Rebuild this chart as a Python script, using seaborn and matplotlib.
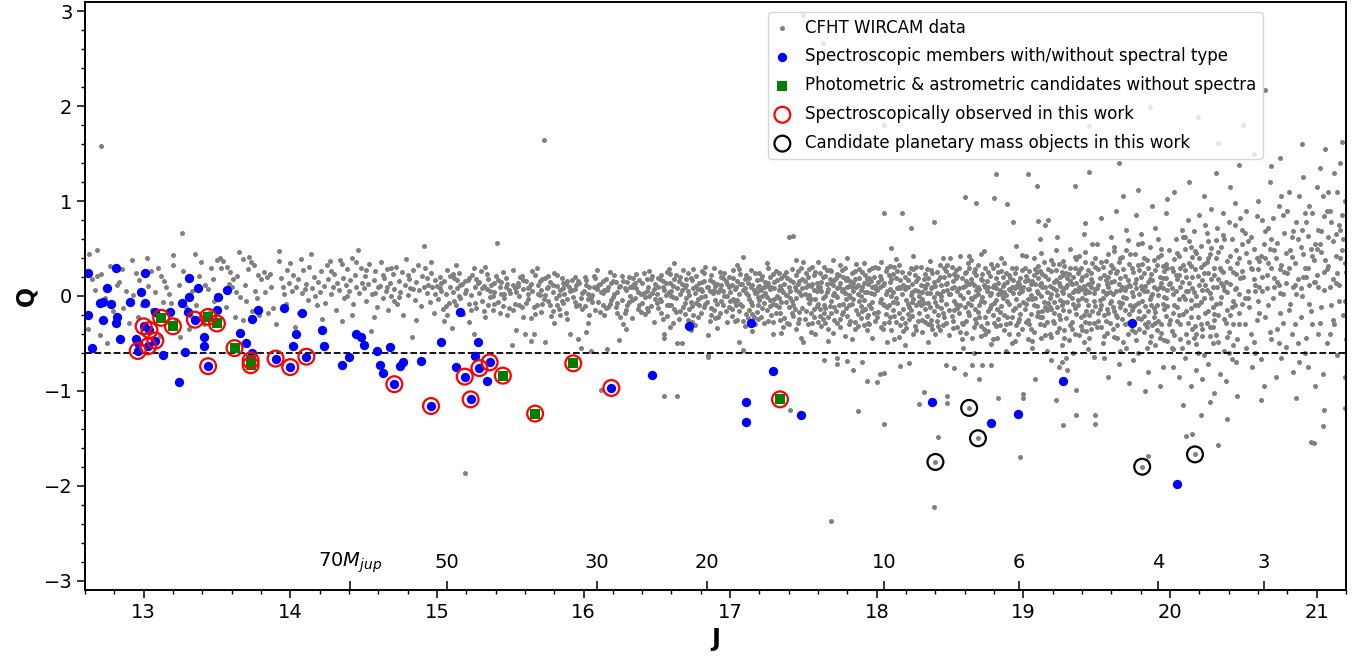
import numpy as np
import matplotlib
matplotlib.use("Agg")
import matplotlib.pyplot as plt
import seaborn as sns
from matplotlib.ticker import AutoMinorLocator

# CFHT WIRCAM photometry (J, Q), "J,Q" pairs
gray_pts = """
12.63,0.44 12.68,0.48 12.71,1.58 12.65,0.18 12.68,0.21 12.71,0.23 12.67,0.06 12.74,-0.02 12.82,0.12 12.83,0.15
12.77,0.32 12.88,0.05 12.93,0.01 12.95,0.24 12.86,-0.13 12.75,-0.50 12.90,-0.28 12.79,-0.16 12.97,0.17 12.92,0.38
12.85,0.28 12.99,-0.09 12.62,-0.35 12.70,-0.41 12.96,-0.22
13.02,0.40 13.05,0.26 13.03,0.11 13.08,0.04 13.12,0.21 13.14,0.16 13.15,0.09 13.17,0.02 13.19,-0.07 13.13,-0.06
13.20,0.43 13.20,0.33 13.26,0.66 13.24,0.12 13.27,0.26 13.29,-0.12 13.33,0.05 13.36,-0.09 13.39,0.36 13.38,0.21
13.42,0.12 13.44,0.07 13.46,0.29 13.48,-0.05 13.41,-0.30 13.06,-0.15 13.11,-0.42 13.22,-0.25 13.31,-0.35 13.35,0.44
13.10,0.30 13.45,-0.17 13.25,-0.43 13.47,0.18 13.32,-0.21
13.50,0.38 13.52,0.40 13.54,0.37 13.53,0.30 13.57,0.31 13.58,0.13 13.60,0.10 13.61,0.18 13.63,0.04 13.65,0.46
13.66,-0.01 13.68,0.39 13.69,0.12 13.70,-0.05 13.72,0.41 13.73,0.36 13.75,0.33 13.76,0.05 13.77,-0.02 13.78,0.22
13.80,0.18 13.82,0.25 13.84,0.20 13.86,0.23 13.88,-0.13 13.85,-0.18 13.79,-0.20 13.74,-0.16 13.92,0.47 13.92,0.37
13.95,0.09 13.96,0.02 13.98,0.27 13.99,0.14 13.56,-0.12 13.62,-0.22 13.68,-0.25 13.90,-0.30 13.94,0.19 13.97,-0.08
13.59,0.25 13.71,0.28 13.83,0.04 13.87,0.09 13.64,0.21
14.00,0.35 14.02,0.22 14.03,-0.33 14.04,0.10 14.05,0.18 14.07,0.39 14.08,0.03 14.09,0.27 14.11,0.13 14.12,-0.04
14.13,0.31 14.15,0.08 14.16,0.20 14.18,-0.10 14.19,0.15 14.20,0.04 14.21,0.26 14.23,0.11 14.24,-0.07 14.25,0.33
14.26,0.18 14.28,0.02 14.29,0.09 14.30,0.23 14.31,-0.15 14.32,0.14 14.33,0.06 14.34,0.38 14.35,0.34 14.36,0.19
14.37,-0.02 14.38,0.12 14.39,0.28 14.40,0.05 14.41,0.17 14.42,0.40 14.43,-0.08 14.44,0.22 14.45,0.10 14.46,0.49
14.47,0.03 14.48,0.30 14.49,0.14 14.06,-0.18 14.14,0.44 14.22,-0.24 14.27,0.37 14.35,-0.26 14.42,-0.20 14.17,0.00
14.10,0.07 14.28,0.26 14.39,0.00 14.45,0.36 14.01,0.05
14.50,0.08 14.51,0.21 14.52,-0.05 14.53,0.13 14.54,0.34 14.55,-0.37 14.56,0.02 14.57,0.17 14.58,0.26 14.59,-0.12
14.60,0.09 14.61,0.11 14.62,0.36 14.63,-0.02 14.64,0.19 14.65,0.05 14.66,0.28 14.67,-0.15 14.68,0.14 14.69,0.00
14.70,0.23 14.71,0.07 14.72,0.31 14.73,-0.08 14.74,0.16 14.75,0.04 14.76,0.25 14.77,-0.20 14.78,0.12 14.79,0.39
14.80,0.01 14.81,0.18 14.82,0.08 14.83,-0.43 14.84,0.27 14.85,-0.04 14.86,0.15 14.87,0.33 14.88,0.06 14.89,-0.11
14.90,0.21 14.91,0.53 14.92,0.30 14.93,0.03 14.94,0.12 14.95,-0.06 14.96,0.24 14.97,0.09 14.98,-0.18 14.99,0.17
14.52,0.27 14.58,0.03 14.63,0.22 14.69,0.30 14.74,-0.01 14.80,0.22 14.86,-0.25 14.91,0.10 14.96,0.36 14.57,-0.22
14.66,0.10 14.71,-0.05 14.84,0.07 14.93,0.19 14.99,0.02
15.00,0.11 15.01,-0.03 15.02,0.20 15.03,0.05 15.04,-0.14 15.05,0.16 15.06,0.02 15.07,0.27 15.08,-0.07 15.09,0.10
15.10,-0.34 15.11,0.04 15.12,0.19 15.13,-0.10 15.14,0.08 15.15,0.24 15.16,-0.02 15.17,0.13 15.18,-0.19 15.19,-1.87
15.20,0.06 15.21,0.17 15.22,-0.08 15.23,0.01 15.24,0.22 15.25,-0.40 15.26,0.09 15.27,-0.13 15.28,0.14 15.29,0.03
15.30,0.26 15.31,-0.05 15.32,0.11 15.33,-0.22 15.34,0.07 15.35,0.18 15.36,-0.01 15.37,0.12 15.38,-0.15 15.39,0.04
15.40,0.21 15.41,0.56 15.42,-0.06 15.43,0.09 15.44,0.15 15.45,-0.11 15.46,0.02 15.47,0.19 15.48,-0.20 15.49,0.06
15.03,0.14 15.07,-0.20 15.11,0.23 15.15,0.00 15.19,0.16 15.23,-0.15 15.27,0.18 15.31,0.08 15.35,-0.09 15.39,0.14
15.43,-0.18 15.47,0.10 15.25,0.30 15.05,-0.26 15.33,0.31 15.45,0.25 15.13,0.33 15.38,0.00 15.22,-0.27 15.48,0.13
15.50,0.03 15.51,-0.52 15.52,0.27 15.53,-0.08 15.54,-0.36 15.55,0.14 15.56,0.00 15.57,0.20 15.58,-0.12 15.59,0.07
15.60,-0.40 15.61,0.16 15.62,-0.03 15.63,0.10 15.64,-0.47 15.65,0.05 15.66,-0.40 15.67,0.22 15.68,-0.09 15.69,0.12
15.70,0.01 15.71,-0.17 15.72,0.18 15.73,1.64 15.74,-0.48 15.75,0.08 15.76,-0.05 15.77,0.15 15.78,-0.21 15.79,0.04
15.80,0.24 15.81,-0.02 15.82,0.11 15.83,-0.14 15.84,0.06 15.85,0.19 15.86,-0.07 15.87,0.02 15.88,0.13 15.89,-0.24
15.90,0.09 15.91,-0.40 15.92,0.17 15.93,-0.01 15.94,0.07 15.95,-0.11 15.96,-0.45 15.97,0.14 15.98,-0.55 15.99,0.03
15.52,-0.15 15.55,0.11 15.58,0.21 15.61,-0.07 15.64,0.13 15.67,-0.19 15.70,0.16 15.73,-0.03 15.76,0.10 15.79,-0.16
15.82,0.22 15.85,-0.05 15.88,-0.18 15.91,0.05 15.94,0.20 15.97,-0.09 15.53,0.08 15.59,-0.22 15.65,0.26 15.71,0.06
15.77,-0.10 15.83,0.01 15.89,0.16 15.95,0.12 15.62,0.02 15.74,0.19 15.86,0.08 15.98,-0.02 15.68,0.30 15.80,-0.28
16.00,0.05 16.01,-0.11 16.02,0.17 16.03,-0.03 16.04,0.10 16.05,-0.58 16.06,0.01 16.07,0.21 16.08,-0.15 16.09,0.07
16.10,-0.06 16.11,0.13 16.12,-0.99 16.13,0.03 16.14,-0.20 16.15,0.18 16.16,-0.56 16.17,0.09 16.18,-0.08 16.19,0.14
16.20,-0.01 16.21,0.22 16.22,-0.12 16.23,0.04 16.24,-0.46 16.25,0.11 16.26,-0.04 16.27,0.16 16.28,-0.18 16.29,0.06
16.30,-0.09 16.31,0.20 16.32,0.00 16.33,-0.23 16.34,0.12 16.35,-0.02 16.36,0.08 16.37,-0.14 16.38,0.17 16.39,0.02
16.40,-0.07 16.41,0.24 16.42,-0.19 16.43,0.05 16.44,0.10 16.45,0.26 16.46,-0.11 16.47,0.03 16.48,-0.27 16.49,0.13
16.01,0.20 16.04,-0.20 16.07,0.09 16.10,0.12 16.13,-0.10 16.16,0.06 16.19,-0.04 16.22,0.15 16.25,-0.22 16.28,0.08
16.31,-0.06 16.34,0.19 16.37,0.04 16.40,0.14 16.43,-0.13 16.46,0.18 16.49,-0.03 16.03,-0.28 16.09,0.27 16.15,-0.13
16.21,0.02 16.27,-0.30 16.33,0.10 16.39,-0.17 16.45,0.00 16.12,0.04 16.24,0.09 16.36,0.23 16.48,0.07 16.06,-0.06
16.18,0.25 16.30,0.15 16.42,-0.01 16.02,-0.38 16.29,-0.35
16.50,0.02 16.51,-0.13 16.52,0.18 16.53,-0.05 16.54,0.09 16.55,-0.40 16.55,-0.44 16.56,0.14 16.57,-0.21 16.58,0.04
16.59,0.23 16.60,-0.09 16.61,0.11 16.62,0.35 16.63,-0.02 16.64,-0.50 16.64,-1.05 16.55,-1.05 16.65,0.16 16.66,-0.16
16.67,0.06 16.67,-0.50 16.68,0.27 16.69,-0.07 16.70,0.12 16.71,-0.25 16.72,0.01 16.73,0.19 16.74,-0.11 16.75,0.08
16.76,-0.31 16.77,0.21 16.78,-0.03 16.79,0.14 16.80,-0.18 16.81,0.05 16.82,0.24 16.83,-0.08 16.84,0.10 16.85,-0.41
16.85,-0.62 16.85,-0.64 16.86,0.17 16.87,-0.13 16.88,0.03 16.89,0.29 16.90,-0.04 16.91,0.13 16.92,-0.22 16.93,0.07
16.94,0.20 16.95,-0.10 16.96,0.00 16.97,0.16 16.98,-0.27 16.99,0.09 16.51,0.10 16.54,-0.24 16.57,0.25 16.60,0.05
16.63,-0.17 16.66,0.20 16.69,0.09 16.72,-0.14 16.75,0.28 16.78,-0.22 16.81,0.15 16.84,-0.06 16.87,0.22 16.90,0.11
16.93,-0.18 16.96,0.24 16.99,-0.12 16.52,-0.03 16.58,-0.10 16.64,0.08 16.70,-0.02 16.76,0.03 16.82,-0.12 16.88,0.15
16.94,-0.05 16.53,0.22 16.61,-0.28 16.68,-0.12 16.74,0.17 16.80,0.07 16.86,-0.26 16.92,0.04 16.98,0.13 16.56,0.01
16.62,0.18 16.71,0.24 16.77,-0.07 16.83,0.31 16.89,-0.15 16.95,0.19 16.59,-0.33 16.73,-0.36 16.91,-0.34
17.00,0.04 17.01,-0.14 17.02,0.19 17.03,-0.06 17.04,0.10 17.05,-0.25 17.06,-0.48 17.06,0.02 17.07,0.23 17.08,-0.11
17.09,0.41 17.09,-0.57 17.10,0.08 17.11,-0.19 17.12,0.14 17.13,-0.03 17.14,0.27 17.15,-0.09 17.16,0.06 17.17,-0.30
17.18,0.17 17.19,-0.01 17.20,0.11 17.21,-0.22 17.22,0.21 17.23,-0.07 17.24,0.03 17.25,-0.15 17.26,0.30 17.27,-0.04
17.28,0.09 17.29,-0.40 17.29,-0.27 17.30,0.15 17.31,-0.10 17.32,0.00 17.33,0.24 17.34,-0.18 17.35,0.07 17.36,-0.33
17.37,0.13 17.38,-0.06 17.39,0.19 17.40,-0.12 17.41,-1.20 17.41,0.05 17.42,0.28 17.43,0.63 17.43,-0.21 17.44,0.10
17.45,0.38 17.45,-0.02 17.46,-0.28 17.47,0.16 17.48,-0.44 17.48,0.01 17.49,-0.13 17.40,0.62 17.01,0.12 17.03,-0.26
17.05,0.16 17.07,-0.08 17.09,0.06 17.11,0.22 17.13,-0.15 17.15,0.12 17.17,0.03 17.19,-0.24 17.21,0.18 17.23,0.09
17.25,-0.01 17.27,0.20 17.29,-0.08 17.31,0.26 17.33,-0.12 17.35,0.19 17.37,-0.23 17.39,0.01 17.41,0.17 17.43,-0.09
17.45,0.22 17.47,-0.17 17.49,0.08 17.02,-0.03 17.06,0.28 17.10,-0.32 17.14,-0.06 17.18,-0.17 17.22,0.00 17.26,-0.26
17.30,-0.03 17.34,0.11 17.38,0.25 17.42,-0.05 17.46,0.13 17.04,-0.10 17.08,0.13 17.12,0.01 17.16,-0.22 17.20,0.24
17.24,0.15 17.28,-0.20 17.32,0.17 17.36,0.04 17.40,-0.30 17.44,-0.14 17.48,0.30 17.05,0.33 17.15,-0.37 17.25,0.35
17.35,-0.39 17.45,-0.35 17.19,0.10 17.27,0.07 17.33,-0.02 17.47,0.04
17.50,0.36 17.50,-0.48 17.51,0.02 17.52,-0.16 17.53,0.20 17.54,-0.07 17.55,0.11 17.56,-0.29 17.57,0.06 17.58,0.25
17.59,-0.11 17.60,0.09 17.61,-0.21 17.62,0.15 17.63,2.67 17.63,-0.02 17.64,-0.67 17.64,0.31 17.65,-0.13 17.66,0.04
17.67,-0.35 17.68,0.18 17.69,-2.37 17.69,-0.05 17.70,0.12 17.71,-0.25 17.72,0.00 17.73,-0.65 17.73,-0.72 17.73,0.23
17.74,-0.09 17.75,0.14 17.76,-0.19 17.77,0.07 17.78,0.29 17.79,-0.03 17.80,-0.69 17.80,0.10 17.81,-0.30 17.82,0.16
17.83,-0.08 17.84,-0.78 17.84,0.05 17.85,0.26 17.86,-0.15 17.87,-1.21 17.87,0.02 17.88,0.19 17.89,-0.23 17.90,-0.70
17.90,0.09 17.91,-0.04 17.92,0.22 17.93,-0.90 17.93,-0.36 17.94,0.13 17.95,-0.10 17.96,0.03 17.97,0.30 17.98,-0.18
17.99,0.08 17.50,2.96 17.51,0.16 17.53,-0.30 17.55,-0.03 17.57,0.22 17.59,0.05 17.61,0.10 17.63,-0.24 17.65,0.21
17.67,0.07 17.69,0.26 17.71,-0.12 17.73,-0.01 17.75,0.33 17.77,-0.17 17.79,0.17 17.81,0.01 17.83,0.24 17.85,-0.27
17.87,0.12 17.89,0.06 17.91,-0.31 17.93,0.18 17.95,0.27 17.97,-0.06 17.99,-0.26 17.52,0.09 17.56,0.13 17.60,-0.08
17.64,-0.18 17.68,-0.11 17.72,0.19 17.76,0.05 17.80,-0.21 17.84,0.14 17.88,-0.05 17.92,-0.14 17.96,0.16 17.54,0.28
17.58,-0.40 17.62,-0.32 17.66,0.27 17.70,-0.39 17.74,0.09 17.78,-0.42 17.82,-0.01 17.86,0.34 17.90,0.25 17.94,-0.20
17.98,0.20 17.53,-0.02 17.57,-0.14 17.61,0.24 17.65,0.00 17.69,0.14 17.73,-0.28 17.77,0.20 17.81,0.11 17.85,-0.35
17.89,-0.11 17.93,0.04 17.97,-0.44 17.60,0.36 17.70,0.38 17.80,0.40 17.91,0.35 17.55,-0.38 17.75,-0.33 17.95,-0.30
17.83,-0.45 17.67,-0.47 17.71,0.03 17.87,-0.19 17.99,0.11
18.00,-0.91 18.00,0.06 18.01,-0.17 18.02,0.21 18.02,-0.82 18.03,-0.03 18.04,0.12 18.05,1.80 18.05,0.88 18.05,-0.81
18.05,-1.35 18.05,-0.28 18.06,0.02 18.07,0.29 18.08,-0.10 18.09,0.15 18.10,0.51 18.10,-0.36 18.11,0.04 18.12,-0.21
18.13,0.19 18.14,-0.07 18.15,0.10 18.16,-0.74 18.16,-0.31 18.17,0.88 18.17,0.25 18.18,-0.14 18.19,0.07 18.20,-0.04
18.21,0.17 18.22,-0.71 18.22,-0.24 18.23,0.72 18.23,0.01 18.24,0.13 18.25,-0.40 18.26,0.22 18.27,-0.09 18.28,0.05
18.29,-1.14 18.29,-0.18 18.30,0.31 18.31,-0.03 18.32,-1.01 18.32,0.11 18.33,-0.27 18.34,0.03 18.35,0.19 18.36,-0.12
18.37,0.08 18.38,-0.35 18.39,0.78 18.39,0.15 18.40,-0.06 18.41,0.25 18.42,-1.49 18.42,-0.20 18.43,0.02 18.44,0.12
18.45,-0.31 18.46,0.20 18.47,-0.73 18.47,-0.08 18.48,-1.05 18.48,-1.13 18.48,0.06 18.49,-0.15 18.01,0.30 18.03,-0.33
18.05,0.14 18.07,-0.12 18.09,-0.22 18.11,0.23 18.13,-0.02 18.15,-0.43 18.17,0.02 18.19,-0.29 18.21,0.09 18.23,-0.15
18.25,0.28 18.27,0.16 18.29,0.00 18.31,-0.38 18.33,0.23 18.35,-0.07 18.37,-0.25 18.39,-0.01 18.41,-0.11 18.43,0.33
18.45,0.05 18.47,0.26 18.49,-0.41 18.02,0.09 18.06,-0.19 18.10,0.18 18.14,0.26 18.18,0.12 18.22,0.24 18.26,-0.32
18.30,-0.10 18.34,0.28 18.38,0.09 18.42,0.17 18.46,-0.22 18.04,-0.08 18.08,0.22 18.12,-0.45 18.16,0.08 18.20,-0.34
18.24,-0.06 18.28,-0.26 18.32,0.18 18.36,0.37 18.40,-0.40 18.44,-0.13 18.48,0.33 18.03,0.36 18.13,0.39 18.25,0.42
18.35,-0.48 18.45,0.40 18.07,-0.48 18.19,-0.52 18.31,0.04 18.41,-0.26 18.09,0.07 18.21,-0.08 18.33,-0.14 18.43,-0.36
18.15,0.33 18.27,0.31 18.37,0.27 18.47,0.13 18.11,-0.06 18.24,0.04 18.34,-0.21 18.44,0.00 18.40,-1.75 18.39,-2.22
18.50,0.02 18.51,-0.21 18.52,0.16 18.53,-0.76 18.53,-0.05 18.54,0.27 18.55,-0.13 18.56,0.08 18.57,-0.38 18.58,0.19
18.59,-0.02 18.60,-0.82 18.60,1.04 18.60,0.11 18.61,-0.26 18.62,0.04 18.63,0.30 18.64,-0.10 18.65,-0.73 18.65,0.14
18.66,-0.33 18.67,0.00 18.68,0.98 18.68,0.22 18.69,-0.17 18.70,-0.87 18.70,0.07 18.71,-0.42 18.72,-0.73 18.72,0.17
18.73,-0.06 18.74,0.09 18.75,-0.29 18.76,0.25 18.77,-0.13 18.78,-0.73 18.78,0.03 18.79,-0.20 18.80,1.03 18.80,0.12
18.81,1.29 18.81,-0.04 18.82,0.33 18.83,-1.08 18.83,-0.24 18.84,0.06 18.85,-0.11 18.86,0.20 18.87,-0.36 18.88,0.01
18.89,0.97 18.89,0.15 18.90,-0.08 18.91,-0.28 18.92,0.10 18.93,0.78 18.93,-0.15 18.94,0.24 18.95,-0.03 18.96,-0.40
18.97,0.13 18.98,-1.70 18.98,-0.19 18.99,0.05 18.51,0.31 18.53,0.10 18.55,0.21 18.57,0.01 18.59,-0.30 18.61,0.16
18.63,-0.20 18.65,-0.03 18.67,0.28 18.69,0.09 18.71,0.18 18.73,-0.35 18.75,0.05 18.77,0.21 18.79,0.10 18.81,-0.32
18.83,0.14 18.85,0.26 18.87,0.04 18.89,-0.22 18.91,0.19 18.93,0.03 18.95,-0.31 18.97,-0.09 18.99,0.27 18.52,-0.34
18.56,-0.18 18.60,-0.12 18.64,0.18 18.68,-0.28 18.72,-0.01 18.76,-0.16 18.80,-0.07 18.84,-0.17 18.88,-0.30 18.92,0.30
18.96,0.15 18.54,-0.08 18.58,-0.45 18.62,0.35 18.66,0.12 18.70,-0.22 18.74,-0.40 18.78,0.34 18.82,-0.44 18.86,-0.02
18.90,0.22 18.94,-0.47 18.98,0.08 18.50,0.40 18.57,0.42 18.64,0.38 18.71,0.44 18.78,-0.51 18.85,0.40 18.92,-0.50
18.99,0.43 18.55,0.05 18.62,-0.07 18.69,0.02 18.76,0.10 18.83,0.02 18.90,0.07 18.97,-0.24 18.53,0.23 18.61,0.25
18.67,-0.14 18.74,0.29 18.81,0.19 18.87,0.13 18.94,0.08 18.59,-0.55 18.73,0.47 18.88,-0.58 18.95,0.53 18.66,-0.60
18.63,-1.18 18.69,-1.50
19.00,-1.03 19.00,-1.08 19.00,0.10 19.01,-0.14 19.02,0.21 19.03,1.29 19.03,-0.03 19.04,0.07 19.05,-0.35 19.06,0.16
19.07,-0.09 19.08,-0.87 19.08,0.28 19.09,1.16 19.09,-0.21 19.10,0.79 19.10,0.03 19.11,0.12 19.12,-0.44 19.13,0.23
19.14,-0.06 19.15,0.75 19.15,0.09 19.16,-0.27 19.17,0.80 19.17,0.18 19.18,-0.12 19.19,0.02 19.20,0.34 19.21,-0.18
19.22,-1.10 19.22,0.06 19.23,-0.38 19.24,-0.75 19.24,0.14 19.25,-0.04 19.26,-0.70 19.26,0.25 19.27,-1.36 19.27,-0.15
19.28,0.08 19.29,-0.23 19.30,-0.78 19.30,0.19 19.31,0.01 19.32,-0.31 19.33,0.13 19.34,-0.08 19.35,1.16 19.35,0.29
19.36,-0.99 19.36,-1.26 19.36,-0.19 19.37,0.05 19.38,-0.41 19.39,0.17 19.40,-0.02 19.41,0.11 19.42,0.77 19.42,-0.27
19.43,0.22 19.44,-0.10 19.45,1.31 19.45,1.79 19.45,0.04 19.46,-0.35 19.47,0.15 19.48,-0.05 19.49,-1.26 19.49,-1.35
19.49,0.31 19.01,0.30 19.03,-0.25 19.05,0.13 19.07,0.22 19.09,0.05 19.11,-0.30 19.13,-0.16 19.15,-0.41 19.17,-0.07
19.19,0.26 19.21,0.15 19.23,0.01 19.25,0.20 19.27,0.37 19.29,0.10 19.31,-0.46 19.33,-0.02 19.35,-0.13 19.37,0.24
19.39,-0.22 19.41,-0.48 19.43,0.06 19.45,-0.20 19.47,0.35 19.49,-0.11 19.02,-0.08 19.06,-0.47 19.10,-0.17 19.14,0.36
19.18,0.11 19.22,0.27 19.26,-0.09 19.30,-0.06 19.34,0.20 19.38,0.09 19.42,0.03 19.46,0.18 19.04,-0.30 19.08,-0.02
19.12,0.14 19.16,0.04 19.20,-0.26 19.24,-0.34 19.28,0.32 19.32,0.16 19.36,0.39 19.40,-0.36 19.44,0.27 19.48,-0.28
19.02,0.42 19.12,0.45 19.22,0.48 19.32,0.50 19.42,0.46 19.47,0.55 19.06,-0.55 19.16,-0.58 19.26,-0.52 19.34,-0.60
19.44,-0.56 19.05,0.01 19.13,-0.22 19.19,-0.14 19.25,0.11 19.31,0.23 19.37,-0.04 19.43,-0.16 19.49,0.07 19.03,0.17
19.09,0.25 19.15,-0.12 19.21,-0.06 19.27,0.03 19.33,-0.35 19.39,0.30 19.45,-0.44 19.07,0.40 19.18,-0.40 19.28,-0.44
19.38,0.42 19.48,-0.64 19.11,0.60 19.23,0.62 19.41,0.65 19.29,-0.65 19.19,-0.68 19.40,0.20 19.46,0.10 19.10,0.19
19.24,-0.20 19.35,0.06
19.50,0.08 19.51,-0.26 19.52,0.19 19.53,-0.09 19.54,0.31 19.55,-0.42 19.56,0.02 19.57,0.13 19.58,-0.18 19.59,0.25
19.60,-0.05 19.61,-0.35 19.62,0.16 19.63,0.05 19.64,-0.22 19.65,1.40 19.65,0.36 19.66,-0.12 19.67,0.09 19.68,-0.48
19.69,0.21 19.70,-0.02 19.71,-0.29 19.72,0.12 19.73,0.44 19.74,-0.15 19.75,0.00 19.76,-0.38 19.77,0.18 19.78,-0.07
19.79,0.27 19.80,-0.24 19.81,0.07 19.82,0.40 19.83,-0.11 19.84,-0.55 19.85,0.15 19.86,1.99 19.86,-0.03 19.87,0.23
19.88,-0.31 19.89,0.10 19.90,-0.17 19.91,0.33 19.92,0.01 19.93,-0.44 19.94,0.14 19.95,-0.08 19.96,0.26 19.97,-0.21
19.98,0.06 19.99,0.48 19.51,0.12 19.53,-0.33 19.55,0.22 19.57,-0.14 19.59,0.04 19.61,0.29 19.63,-0.20 19.65,-0.06
19.67,0.41 19.69,-0.30 19.71,0.17 19.73,-0.10 19.75,0.25 19.77,-0.46 19.79,0.02 19.81,0.34 19.83,0.11 19.85,-0.27
19.87,-0.09 19.89,0.38 19.91,-0.36 19.93,0.20 19.95,0.08 19.97,-0.02 19.99,-0.30 19.52,-0.04 19.56,0.37 19.60,0.15
19.64,0.26 19.68,-0.01 19.72,-0.19 19.76,0.14 19.80,0.20 19.84,0.05 19.88,0.17 19.92,-0.26 19.96,-0.14 19.54,-0.50
19.58,0.44 19.62,-0.43 19.66,-0.58 19.70,0.49 19.74,0.30 19.78,-0.60 19.82,-0.38 19.86,0.52 19.90,-0.52 19.94,0.43
19.98,-0.47 19.50,0.55 19.60,0.62 19.70,0.70 19.80,0.65 19.90,0.72 19.55,-0.65 19.65,-0.72 19.75,-0.68 19.85,-0.80
19.95,-0.75 19.53,0.82 19.63,0.90 19.77,0.85 19.88,0.95 19.97,0.88 19.58,-0.85 19.72,-0.92 19.83,-1.00 19.93,-0.95
19.57,0.03 19.61,-0.12 19.69,0.06 19.73,0.11 19.79,-0.16 19.85,0.29 19.91,0.07 19.97,0.19 19.59,-0.07 19.66,0.19
19.76,-0.09 19.82,-0.21 19.89,-0.13 19.95,0.32 19.64,-0.31 19.74,-0.36 19.84,-0.33 19.94,-0.39 19.51,-0.18 19.62,0.47
19.71,0.59 19.81,0.56 19.92,0.60 19.68,1.05 19.78,1.12 19.98,1.02 19.56,-0.26 19.67,-0.24 19.78,0.33 19.87,0.00
19.96,-0.01 19.81,-1.80 19.85,-1.69
20.00,0.14 20.01,-0.37 20.02,0.26 20.03,-0.10 20.04,0.05 20.05,0.45 20.06,-0.20 20.07,0.10 20.08,-0.55 20.09,0.33
20.10,-0.03 20.11,0.20 20.12,-0.29 20.13,0.58 20.14,-0.13 20.15,0.08 20.16,-0.44 20.17,0.28 20.18,0.00 20.19,1.89
20.19,-0.22 20.20,0.40 20.21,-0.06 20.22,0.17 20.23,-0.62 20.24,0.12 20.25,0.36 20.26,-0.16 20.27,0.03 20.28,0.51
20.29,-0.33 20.30,0.22 20.31,-0.08 20.32,0.10 20.33,1.61 20.33,-0.48 20.34,0.30 20.35,-0.01 20.36,0.64 20.37,-0.24
20.38,0.15 20.39,0.04 20.40,-0.38 20.41,0.42 20.42,-0.12 20.43,0.25 20.44,0.07 20.45,-0.70 20.46,0.35 20.47,-0.18
20.48,0.19 20.49,0.55 20.01,0.08 20.03,0.39 20.05,-0.26 20.07,-0.45 20.09,0.00 20.11,-0.16 20.13,0.14 20.15,-0.35
20.17,0.47 20.19,0.21 20.21,0.31 20.23,-0.02 20.25,-0.28 20.27,0.44 20.29,0.09 20.31,-0.41 20.33,0.18 20.35,0.52
20.37,0.06 20.39,-0.15 20.41,0.13 20.43,-0.30 20.45,0.23 20.47,0.40 20.49,-0.08 20.02,-0.18 20.06,0.22 20.10,0.50
20.14,0.32 20.18,-0.51 20.22,-0.35 20.26,0.24 20.30,-0.19 20.34,-0.07 20.38,-0.29 20.42,0.60 20.46,-0.45 20.04,0.60
20.08,0.70 20.12,0.80 20.16,0.68 20.20,0.85 20.24,0.75 20.28,0.92 20.32,0.72 20.36,0.88 20.40,0.78 20.44,0.98
20.48,0.82 20.02,-0.75 20.06,-0.85 20.10,-0.65 20.14,-0.95 20.18,-0.78 20.22,-0.88 20.26,-0.72 20.30,-1.02 20.34,-0.82
20.38,-0.90 20.42,-0.66 20.46,-1.05 20.03,1.10 20.13,1.20 20.23,1.05 20.31,1.30 20.41,1.15 20.47,1.38 20.09,-1.15
20.21,-1.25 20.27,-1.12 20.39,-1.30 20.50,1.80 20.05,0.18 20.11,-0.40 20.17,-0.09 20.23,0.34 20.29,-0.12 20.35,0.27
20.41,-0.20 20.47,0.02 20.07,0.29 20.15,0.41 20.21,-0.30 20.27,-0.42 20.33,0.46 20.39,0.37 20.45,0.08 20.01,-0.55
20.19,-0.60 20.37,-0.58 20.43,-0.52 20.09,0.62 20.25,0.66 20.31,0.59 20.49,0.70 20.14,-0.04 20.28,-0.02 20.44,-0.10
20.12,0.05 20.36,0.11 20.17,-1.67 20.11,-1.48 20.15,-1.46 20.33,-1.57
20.50,0.20 20.51,-0.30 20.52,0.45 20.53,0.05 20.54,-0.12 20.55,0.62 20.56,0.28 20.57,-0.48 20.58,0.12 20.59,0.84
20.60,-0.05 20.61,0.37 20.62,-0.66 20.63,0.20 20.64,0.55 20.65,2.17 20.65,-0.22 20.66,0.08 20.67,0.72 20.68,-0.38
20.69,1.37 20.69,0.30 20.70,-0.02 20.71,0.48 20.72,-0.85 20.73,0.15 20.74,0.95 20.75,-0.18 20.76,0.33 20.77,0.02
20.78,0.66 20.79,-0.54 20.80,0.24 20.81,1.10 20.82,-0.08 20.83,0.41 20.84,0.10 20.85,-0.30 20.86,0.78 20.87,0.18
20.88,-0.70 20.89,0.52 20.90,0.00 20.91,1.25 20.92,0.29 20.93,-0.44 20.94,0.63 20.95,0.12 20.96,-0.16 20.97,0.88
20.98,0.38 20.99,-0.95 21.00,0.22 21.01,0.70 21.02,-0.28 21.03,0.46 21.04,1.05 21.05,0.06 21.06,1.55 21.07,-0.50
21.08,0.32 21.09,0.90 21.10,-0.10 21.11,0.58 21.12,1.30 21.13,0.14 21.14,-0.62 21.15,0.75 21.16,0.40 21.17,1.62
21.18,-0.20 21.19,1.00 21.20,0.25 20.51,0.66 20.53,-0.02 20.55,0.30 20.57,0.50 20.59,-0.25 20.61,0.09 20.63,0.80
20.65,0.40 20.67,-0.10 20.69,0.60 20.71,0.19 20.73,-0.35 20.75,0.28 20.77,0.85 20.79,0.14 20.81,-0.15 20.83,0.62
20.85,0.35 20.87,-0.50 20.89,0.08 20.91,0.44 20.93,0.20 20.95,0.95 20.97,-0.30 20.99,0.55 21.01,0.10 21.03,-0.12
21.05,0.84 21.07,0.28 21.09,-0.40 21.11,0.18 21.13,0.65 21.15,-0.05 21.17,0.48 21.19,0.35 20.52,-0.55 20.56,-0.75
20.60,1.00 20.64,-0.95 20.68,1.20 20.72,0.40 20.76,-0.65 20.80,0.90 20.84,-0.80 20.88,1.05 20.92,-0.60 20.96,0.50
21.00,1.15 21.04,-0.82 21.08,0.62 21.12,-0.30 21.16,1.40 21.20,-0.45 20.54,0.36 20.58,0.05 20.62,0.42 20.66,0.22
20.70,0.82 20.74,0.12 20.78,0.25 20.82,0.48 20.86,0.02 20.90,0.70 20.94,0.30 20.98,0.15 21.02,0.55 21.06,0.38
21.10,0.78 21.14,0.24 21.18,0.60 20.57,1.50 20.75,1.45 20.90,1.60 21.02,1.35 21.14,1.10 20.62,-1.10 20.86,-1.08
21.05,-1.20 21.19,-0.85 20.98,-1.55 20.96,-1.54 21.04,-1.37 21.19,-1.18
15.02,0.08 15.06,-0.11 15.09,0.21 15.12,-0.05 15.16,0.12 15.19,0.03 15.22,0.19 15.26,-0.07 15.29,0.15 15.32,-0.16
15.36,0.05 15.39,-0.08 15.42,0.17 15.46,-0.02 15.49,-0.13 15.52,0.12 15.56,-0.10 15.59,0.17 15.62,0.08 15.66,-0.12
15.69,0.02 15.72,-0.08 15.76,0.21 15.79,0.12 15.82,-0.09 15.86,0.14 15.89,-0.03 15.92,0.06 15.96,0.16 15.99,-0.14
16.02,0.12 16.05,-0.02 16.08,0.19 16.11,-0.17 16.14,0.06 16.17,-0.12 16.20,0.16 16.23,-0.07 16.26,0.21 16.29,-0.15
16.32,0.09 16.35,0.14 16.38,-0.10 16.41,0.03 16.44,-0.16 16.47,0.21 16.50,-0.07 16.03,0.02 16.13,0.16 16.23,-0.18
16.33,-0.04 16.43,0.18 15.44,0.02 15.54,0.04 15.64,-0.23 15.74,0.01 15.84,-0.20 15.94,-0.06 15.14,0.17 15.34,0.23
16.51,0.19 16.53,-0.18 16.55,0.06 16.57,-0.09 16.59,0.14 16.61,-0.01 16.63,0.22 16.65,-0.24 16.67,0.13 16.69,-0.19
16.71,0.05 16.73,-0.06 16.75,-0.20 16.77,0.11 16.79,-0.10 16.81,0.26 16.83,0.00 16.85,0.09 16.87,-0.20 16.89,0.06
16.91,-0.08 16.93,0.25 16.95,0.05 16.97,-0.16 16.99,0.20 17.01,-0.21 17.03,0.07 17.05,-0.04 17.07,0.13 17.09,-0.26
17.11,0.03 17.13,0.19 17.15,-0.19 17.17,0.24 17.19,-0.10 17.21,0.06 17.23,-0.28 17.25,0.11 17.27,-0.11 17.29,0.23
17.31,-0.18 17.33,0.06 17.35,-0.06 17.37,0.22 17.39,-0.28 17.41,-0.02 17.43,0.15 17.45,0.06 17.47,-0.24 17.49,0.18
16.54,0.16 16.58,0.28 16.62,-0.14 16.66,0.02 16.70,0.18 16.74,-0.27 16.78,0.07 16.82,0.16 16.86,0.05 16.90,-0.23
16.94,0.12 16.98,0.00 17.02,0.27 17.06,-0.16 17.10,0.18 17.14,0.10 17.18,0.04 17.22,-0.13 17.26,0.14 17.30,0.08
17.34,-0.25 17.38,0.01 17.42,-0.18 17.46,0.26 16.60,0.00 16.80,-0.01 17.00,-0.05 17.20,-0.04 17.40,0.09 17.12,-0.23
17.51,-0.24 17.52,0.24 17.54,0.01 17.55,-0.18 17.56,0.31 17.58,-0.03 17.59,0.14 17.60,-0.27 17.62,0.05 17.63,0.20
17.64,-0.09 17.66,0.13 17.67,-0.22 17.68,0.27 17.70,0.01 17.71,0.17 17.72,-0.16 17.74,0.22 17.75,-0.24 17.76,0.27
17.78,0.03 17.79,-0.13 17.80,0.19 17.82,-0.26 17.83,0.09 17.84,-0.03 17.86,0.10 17.87,-0.32 17.88,0.28 17.90,-0.16
17.91,0.14 17.92,0.04 17.94,-0.28 17.95,0.19 17.96,-0.13 17.98,0.02 17.99,0.31 18.00,-0.22 18.02,-0.06 18.03,0.18
18.04,-0.35 18.06,0.26 18.07,0.05 18.08,-0.27 18.10,0.00 18.11,-0.15 18.12,0.31 18.14,0.08 18.15,-0.18 18.16,0.17
18.18,-0.37 18.19,0.20 18.20,0.09 18.22,-0.12 18.23,0.30 18.24,-0.21 18.26,0.06 18.27,-0.36 18.28,0.19 18.30,0.12
18.31,-0.25 18.32,-0.07 18.34,0.13 18.35,-0.30 18.36,0.03 18.38,0.24 18.39,-0.16 18.40,0.11 18.42,-0.32 18.43,0.20
18.44,-0.04 18.46,0.29 18.47,-0.28 18.48,0.14 18.49,0.02 17.53,0.12 17.61,-0.14 17.69,-0.18 17.77,-0.08 17.85,0.18
17.93,-0.22 18.01,0.15 18.09,0.32 18.17,-0.23 18.25,-0.03 18.33,0.08 18.41,0.03 18.49,0.22 17.57,-0.22 17.65,-0.29
17.73,0.08 17.81,-0.10 17.89,0.00 17.97,0.10 18.05,-0.10 18.13,-0.27 18.21,-0.19 18.29,-0.06 18.37,-0.31 18.45,-0.18
18.51,0.08 18.52,-0.26 18.53,-0.15 18.54,0.19 18.56,0.30 18.57,-0.10 18.58,-0.28 18.59,0.09 18.60,0.24 18.61,-0.39
18.62,-0.17 18.63,0.13 18.64,-0.02 18.65,-0.44 18.66,0.25 18.67,-0.24 18.68,0.06 18.69,0.33 18.70,-0.09 18.71,-0.32
18.72,0.23 18.73,0.12 18.74,-0.22 18.75,0.16 18.76,-0.37 18.77,0.01 18.78,-0.10 18.79,0.29 18.80,-0.28 18.81,0.08
18.82,-0.14 18.83,0.25 18.84,-0.31 18.85,0.02 18.86,0.11 18.87,-0.20 18.88,0.24 18.89,-0.05 18.90,-0.40 18.91,0.06
18.92,-0.22 18.93,0.17 18.94,-0.13 18.95,0.30 18.96,-0.27 18.97,0.03 18.98,0.19 18.99,-0.35 19.00,-0.06 19.01,0.16
19.02,-0.27 19.03,0.07 19.04,0.26 19.05,-0.19 19.06,-0.03 19.07,-0.38 19.08,0.13 19.09,-0.11 19.10,0.32 19.11,-0.22
19.12,0.00 19.13,0.10 19.14,-0.31 19.15,0.21 19.16,-0.15 19.17,0.28 19.18,-0.02 19.19,-0.43 19.20,0.08 19.21,-0.29
19.22,0.17 19.23,-0.12 19.24,0.34 19.25,-0.24 19.26,0.05 19.27,-0.06 19.28,-0.36 19.29,0.24 19.30,0.12 19.31,-0.16
19.32,0.30 19.33,-0.27 19.34,0.04 19.35,-0.40 19.36,0.14 19.37,-0.10 19.38,0.27 19.39,-0.32 19.40,0.07 19.41,-0.20
19.42,0.36 19.43,-0.04 19.44,0.13 19.45,-0.29 19.46,0.24 19.47,-0.16 19.48,0.03 19.49,0.40 18.55,-0.33 18.63,0.42
18.71,-0.05 18.79,-0.45 18.87,0.35 18.95,0.11 19.03,-0.45 19.11,0.26 19.19,0.38 19.27,0.22 19.35,0.41 19.43,-0.37
19.50,-0.33 19.51,0.28 19.52,-0.14 19.53,0.36 19.54,0.05 19.55,-0.20 19.56,0.17 19.57,-0.39 19.58,0.09 19.59,-0.28
19.60,0.33 19.61,0.02 19.62,-0.16 19.63,0.24 19.64,-0.44 19.65,0.13 19.66,0.40 19.67,-0.07 19.68,0.28 19.69,-0.15
19.70,0.10 19.71,-0.40 19.72,0.34 19.73,-0.27 19.74,0.04 19.75,-0.12 19.76,0.44 19.77,0.08 19.78,-0.23 19.79,-0.35
19.80,0.11 19.81,-0.05 19.82,0.24 19.83,-0.30 19.84,0.38 19.85,-0.16 19.86,0.18 19.87,-0.42 19.88,0.02 19.89,-0.22
19.90,0.27 19.91,-0.09 19.92,0.41 19.93,0.09 19.94,-0.30 19.95,0.19 19.96,-0.46 19.97,0.34 19.98,-0.11 19.99,0.13
20.00,-0.25 20.01,0.30 20.02,0.02 20.03,-0.41 20.04,0.22 20.05,-0.12 20.06,0.42 20.07,-0.30 20.08,0.15 20.09,-0.19
20.10,0.27 20.11,0.05 20.12,-0.48 20.13,0.35 20.14,-0.22 20.15,0.20 20.16,0.04 20.17,-0.32 20.18,0.45 20.19,-0.10
20.20,0.12 20.21,0.53 20.22,-0.42 20.23,0.24 20.24,-0.18 20.25,0.06 20.26,0.40 20.27,-0.33 20.28,0.18 20.29,-0.50
20.30,0.30 19.54,-0.02 19.62,0.52 19.70,-0.55 19.78,0.55 19.86,-0.48 19.94,0.50 20.02,-0.56 20.10,0.62 20.18,-0.40
20.26,0.58 19.58,0.20 19.66,0.06 19.74,-0.31 19.82,0.05 19.90,-0.28 19.98,0.30 20.06,-0.03 20.14,0.52 20.22,0.06
20.30,-0.25
20.31,0.40 20.33,-0.20 20.35,0.14 20.37,0.60 20.39,-0.43 20.41,0.30 20.43,-0.05 20.45,0.48 20.47,-0.30 20.49,0.26
20.51,-0.02 20.53,0.58 20.55,-0.40 20.57,0.18 20.59,0.40 20.61,-0.18 20.63,0.05 20.65,0.68 20.67,0.35 20.69,-0.45
20.71,0.10 20.73,0.56 20.75,0.03 20.77,-0.28 20.79,0.45 20.81,0.30 20.83,-0.40 20.85,0.12 20.87,0.60 20.89,-0.22
20.91,0.20 20.93,0.78 20.95,-0.08 20.97,0.42 20.99,0.15 21.01,-0.40 21.03,0.68 21.05,0.25 21.07,0.90 21.09,0.10
21.11,-0.25 21.13,0.42 21.15,0.12 21.17,0.85 21.19,-0.05 20.36,0.25 20.44,0.75 20.52,0.90 20.60,0.28 20.68,0.50
20.76,1.05 20.84,0.68 20.92,0.88 21.00,0.50 21.08,1.10 21.16,0.70 20.40,-0.60 20.58,-0.60 20.74,-0.50 20.94,-0.75
"""
gray_j = [float(p.split(",")[0]) for p in gray_pts.split()]
gray_q = [float(p.split(",")[1]) for p in gray_pts.split()]

# spectroscopic members (blue)
blue_j = [12.62, 12.81, 13.01, 12.75, 12.70, 12.72, 12.78, 12.91, 12.98, 13.01,
          12.62, 12.72, 12.82, 12.81, 12.84, 12.65, 12.95, 12.96, 13.13, 13.08,
          13.18, 13.26, 13.31, 13.37, 13.31, 13.30, 13.28, 13.24, 13.41, 13.41,
          13.51, 13.57, 13.50, 13.66, 13.70, 13.74, 13.78, 13.74, 13.96, 14.08,
          14.04, 14.02, 14.22, 14.23, 14.35, 14.40, 14.45, 14.48, 14.50, 14.59,
          14.68, 14.61, 14.63, 14.75, 14.77, 14.89, 15.03, 15.16, 15.13, 15.28,
          15.26, 15.34, 16.47, 16.72, 17.14, 17.11, 17.11, 17.29, 17.48, 18.38,
          18.78, 18.96, 19.27, 19.74, 20.05,
          12.96, 13.00, 13.04, 13.08, 13.03, 13.35, 13.44, 13.90, 14.00, 14.11,
          14.71, 14.96, 15.19, 15.29, 15.36, 15.23, 16.19]
blue_q = [0.24, 0.29, 0.24, 0.08, -0.07, -0.06, -0.08, -0.06, 0.04, -0.07,
          -0.20, -0.25, -0.22, -0.29, -0.45, -0.55, -0.45, -0.50, -0.62, -0.17,
          -0.17, -0.07, 0.19, 0.08, -0.01, -0.17, -0.59, -0.91, -0.43, -0.53,
          -0.01, 0.06, -0.15, -0.39, -0.50, -0.60, -0.15, -0.24, -0.13, -0.18,
          -0.40, -0.53, -0.36, -0.53, -0.73, -0.64, -0.40, -0.43, -0.52, -0.58,
          -0.54, -0.73, -0.81, -0.74, -0.70, -0.69, -0.49, -0.17, -0.75, -0.48,
          -0.63, -0.90, -0.83, -0.32, -0.29, -1.12, -1.33, -0.79, -1.26, -1.12,
          -1.34, -1.24, -0.90, -0.29, -1.98,
          -0.58, -0.32, -0.36, -0.47, -0.53, -0.25, -0.74, -0.66, -0.75, -0.64,
          -0.93, -1.16, -0.85, -0.76, -0.70, -1.09, -0.97]

# photometric & astrometric candidates (green squares)
green_j = [13.12, 13.20, 13.44, 13.50, 13.62, 13.73, 13.73, 15.45, 15.67, 15.93, 17.34]
green_q = [-0.23, -0.32, -0.22, -0.29, -0.55, -0.68, -0.73, -0.84, -1.24, -0.71, -1.09]

# observed in this work (red rings)
obs_j = [12.96, 13.00, 13.04, 13.08, 13.03, 13.35, 13.44, 13.90, 14.00, 14.11,
         14.71, 14.96, 15.19, 15.29, 15.36, 15.23, 16.19,
         13.12, 13.20, 13.44, 13.50, 13.62, 13.73, 13.73, 15.45, 15.67, 15.93, 17.34]
obs_q = [-0.58, -0.32, -0.36, -0.47, -0.53, -0.25, -0.74, -0.66, -0.75, -0.64,
         -0.93, -1.16, -0.85, -0.76, -0.70, -1.09, -0.97,
         -0.23, -0.32, -0.22, -0.29, -0.55, -0.68, -0.73, -0.84, -1.24, -0.71, -1.09]

# candidate planetary mass objects (black rings)
pmo_j = [18.40, 18.63, 18.69, 19.81, 20.17]
pmo_q = [-1.75, -1.18, -1.50, -1.80, -1.67]

q_cut = -0.6

# mass scale along the J axis
mass_j = [14.41, 15.07, 16.09, 16.84, 18.05, 18.97, 19.92, 20.64]
mass_labels = ["$70M_{jup}$", "50", "30", "20", "10", "6", "4", "3"]

plt.rcParams["axes.linewidth"] = 1.2

fig = plt.figure(figsize=(13.57, 6.59), dpi=100)
ax = fig.add_axes([0.0626, 0.1047, 0.9293, 0.8923])

sns.scatterplot(x=gray_j, y=gray_q, color="grey", s=13, linewidth=0,
                label="CFHT WIRCAM data", ax=ax, zorder=1)
ax.axhline(q_cut, color="black", ls="--", lw=1.3, zorder=2)
sns.scatterplot(x=blue_j, y=blue_q, color="blue", s=45, linewidth=0,
                label="Spectroscopic members with/without spectral type", ax=ax, zorder=3)
sns.scatterplot(x=green_j, y=green_q, color="green", marker="s", s=45, linewidth=0,
                label="Photometric & astrometric candidates without spectra", ax=ax, zorder=4)
sns.scatterplot(x=obs_j, y=obs_q, s=130, facecolor="none", edgecolor="red", linewidth=1.6,
                label="Spectroscopically observed in this work", ax=ax, zorder=5)
sns.scatterplot(x=pmo_j, y=pmo_q, s=130, facecolor="none", edgecolor="black", linewidth=1.6,
                label="Candidate planetary mass objects in this work", ax=ax, zorder=5)

ax.set_xlim(12.6, 21.2)
ax.set_ylim(-3.1, 3.1)
ax.xaxis.set_minor_locator(AutoMinorLocator(5))
ax.yaxis.set_minor_locator(AutoMinorLocator(5))
ax.tick_params(which="major", length=5.5, width=1.1, labelsize=14)
ax.tick_params(which="minor", length=3, width=1)
ax.set_xlabel("J", fontsize=17, fontweight="bold")
ax.set_ylabel("Q", fontsize=17, fontweight="bold")

# mass scale: inward ticks on the bottom axis with labels above
ax2 = ax.twiny()
ax2.set_xlim(ax.get_xlim())
ax2.xaxis.set_ticks_position("bottom")
ax2.set_xticks(mass_j)
ax2.tick_params(axis="x", direction="in", length=6.5, width=1.1,
                labelbottom=False, labeltop=False)
for mj, ml in zip(mass_j, mass_labels):
    ax.text(mj, 0.046, ml, transform=ax.get_xaxis_transform(),
            ha="center", va="center", fontsize=14)

ax.legend(loc="upper right", bbox_to_anchor=(0.934, 0.983), borderaxespad=0,
          fontsize=12, borderpad=0.4, handlelength=0.9, handletextpad=0.9,
          labelspacing=0.65)

plt.savefig("out.png", dpi=100)
